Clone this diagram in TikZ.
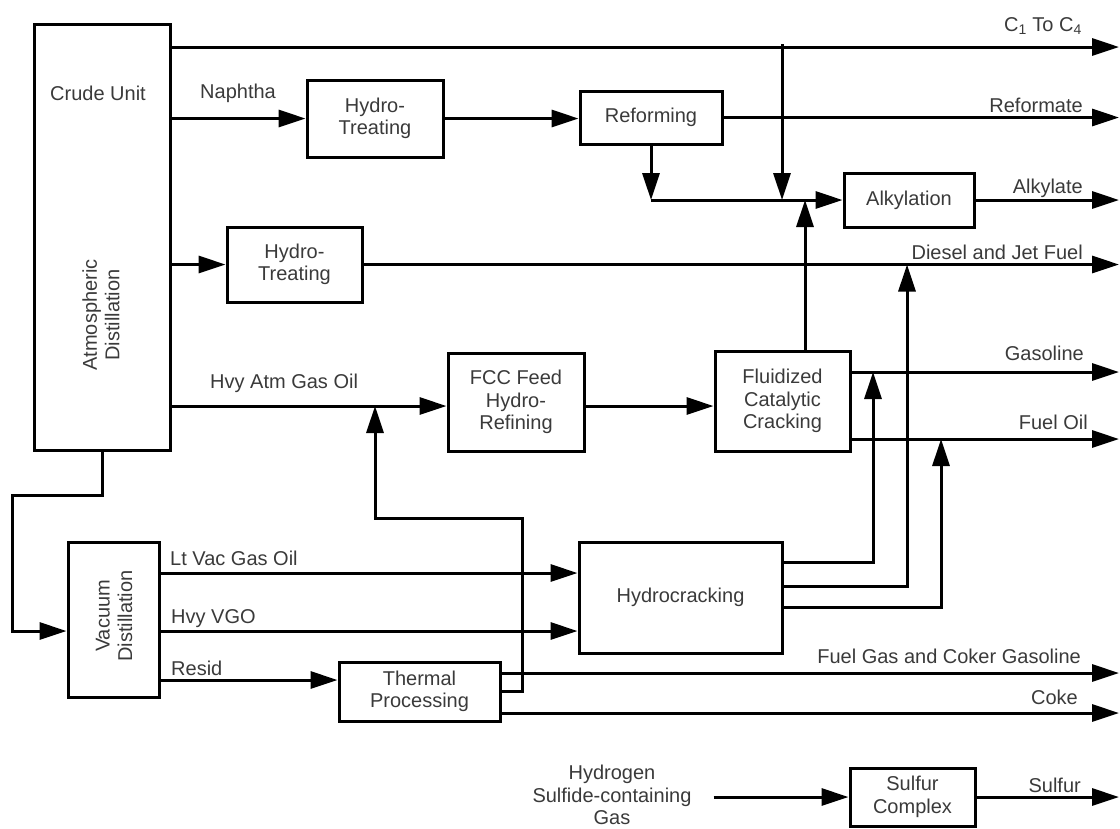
\documentclass[tikz,border=0pt]{standalone}
\usepackage{fontspec}
\setmainfont{Liberation Sans}
\usetikzlibrary{arrows.meta, calc, positioning}
\definecolor{labgray}{HTML}{3A3A3A}
\tikzset{
  unitbox/.style = {draw, line width=3pt, text=labgray, align=center, inner sep=0pt},
  pipe/.style    = {line width=3pt},
  flow/.style    = {pipe, -{Triangle[length=27pt, width=17pt]}},
  prodlab/.style = {anchor=base east, text=labgray, inner sep=0pt},
  feedlab/.style = {anchor=base west, text=labgray, inner sep=0pt},
  boxlab/.style  = {text=labgray, align=center, inner sep=0pt},
}

\begin{document}
\begin{tikzpicture}[x=1pt, y=-1pt, font=\fontsize{20}{22.5}\selectfont]
  \useasboundingbox (0,0) rectangle (1120,828);
  % process units
  \node[unitbox, minimum width=136pt, minimum height=426pt] (crude) at (102,237) {};
  \node[unitbox, minimum width=136pt, minimum height=77pt] (ht1) at (375,118.5) {Hydro-\\Treating};
  \node[unitbox, minimum width=142pt, minimum height=53pt] (reform) at (651,117.5) {Reforming};
  \node[unitbox, minimum width=130pt, minimum height=54pt] (alky) at (909,200) {Alkylation};
  \node[unitbox, minimum width=135pt, minimum height=75pt] (ht2) at (294.5,264.5) {Hydro-\\Treating};
  \node[unitbox, minimum width=136pt, minimum height=98pt] (fccfeed) at (516,402) {FCC Feed\\Hydro-\\Refining};
  \node[unitbox, minimum width=135pt, minimum height=100pt] (fcc) at (782.5,401) {Fluidized\\Catalytic\\Cracking};
  \node[unitbox, minimum width=203pt, minimum height=111pt] (hcrack) at (680.5,597.5) {Hydrocracking};
  \node[unitbox, minimum width=91pt, minimum height=155pt] (vac) at (113.5,619.5) {};
  \node[unitbox, minimum width=161pt, minimum height=59pt] (thermal) at (419.5,691.5) {Thermal\\Processing};
  \node[unitbox, minimum width=125pt, minimum height=58pt] (sulfur) at (912.5,797) {Sulfur\\Complex};
  \node[boxlab] (crudelab) at (98,93) {Crude Unit};
  \node[boxlab, rotate=90] (atmlab) at (101,315) {Atmospheric\\Distillation};
  \node[boxlab, rotate=90] (vaclab) at (114,616) {Vacuum\\Distillation};
  \node[boxlab] (h2s) at (612,795) {Hydrogen\\Sulfide-containing\\Gas};

  % stream ends and bends
  \coordinate (c14R) at (1119,47);
  \coordinate (hago) at (170,406);
  \coordinate (tdrop) at (782,44);
  \coordinate (fccup) at (805,351);
  \coordinate (gasR) at (1119,372);
  \coordinate (foR) at (1119,439);
  \coordinate (dslR) at (1119,266);
  \coordinate (hcA) at (873,562);
  \coordinate (hcB) at (907,586);
  \coordinate (hcC) at (941,607);
  \coordinate (lvgo) at (159,573);
  \coordinate (hvgo) at (159,631);
  \coordinate (resid) at (159,680);
  \coordinate (fgR) at (1119,673);
  \coordinate (rcyc) at (522,691);
  \coordinate (rc1) at (522,518);
  \coordinate (rc2) at (375,518);
  \coordinate (cokeR) at (1119,713);
  \coordinate (cv1) at (12,495);

  % crude unit streams
  \draw[flow] (crude.east |- c14R) -- (c14R);
  \draw[flow] (crude.east |- ht1.west) -- (ht1.west);
  \draw[flow] (ht1.east) -- (reform.west |- ht1.east);
  \draw[flow] (reform.east) -- (reform.east -| c14R);
  \draw[flow] (reform.south) -- (reform.south |- alky.west);
  \draw[flow] (reform.south |- alky.west) -- (alky.west);
  \draw[flow] (tdrop) -- (tdrop |- alky.west);
  \draw[flow] (fccup) -- (fccup |- alky.west);
  \draw[flow] (alky.east) -- (alky.east -| c14R);
  \draw[flow] (crude.east |- ht2.west) -- (ht2.west);
  \draw[flow] (ht2.east) -- (ht2.east -| dslR);
  \draw[flow] (hago) -- (hago -| fccfeed.west);
  \draw[flow] (fccfeed.east |- hago) -- (fcc.west |- hago);
  \draw[flow] (fcc.east |- gasR) -- (gasR);
  \draw[flow] (fcc.east |- foR) -- (foR);

  % vacuum side
  \draw[flow] (crude.south) |- (cv1) |- (vac.west |- hvgo);
  \draw[flow] (lvgo) -- (hcrack.west |- lvgo);
  \draw[flow] (hvgo) -- (hcrack.west |- hvgo);
  \draw[flow] (resid) -- (thermal.west |- resid);
  \draw[flow] (hcrack.east |- hcA) -| (hcA |- gasR);
  \draw[flow] (hcrack.east |- hcB) -| (hcB |- ht2.east);
  \draw[flow] (hcrack.east |- hcC) -| (hcC |- foR);
  \draw[flow] (thermal.east |- fgR) -- (fgR);
  \draw[flow] (thermal.east |- rcyc) -- (rcyc) -- (rc1) -- (rc2) -- (rc2 |- hago);
  \draw[flow] (thermal.east |- cokeR) -- (cokeR);

  % sulfur
  \draw[flow, shorten <=22pt] (h2s.east |- sulfur.west) -- (sulfur.west);
  \draw[flow] (sulfur.east) -- (sulfur.east -| c14R);

  % stream labels
  \node[feedlab] (naplab) at (200,98) {Naphtha};
  \node[feedlab] (hagolab) at (210,388) {Hvy Atm Gas Oil};
  \node[feedlab] (lvgolab) at (170,565) {Lt Vac Gas Oil};
  \node[feedlab] (hvgolab) at (171,623) {Hvy VGO};
  \node[feedlab] (residlab) at (171,675) {Resid};
  \node[prodlab] (c14lab) at (1082,31) {C\textsubscript{1} To C\textsubscript{4}};
  \node[prodlab] (reflab) at (1083,112) {Reformate};
  \node[prodlab] (alklab) at (1083,193) {Alkylate};
  \node[prodlab] (dsllab) at (1083,259) {Diesel and Jet Fuel};
  \node[prodlab] (gaslab) at (1084,360) {Gasoline};
  \node[prodlab] (folab) at (1088,429) {Fuel Oil};
  \node[prodlab] (fglab) at (1081,663) {Fuel Gas and Coker Gasoline};
  \node[prodlab] (cokelab) at (1078,704) {Coke};
  \node[prodlab] (sulab) at (1081,792) {Sulfur};
\end{tikzpicture}
\end{document}
